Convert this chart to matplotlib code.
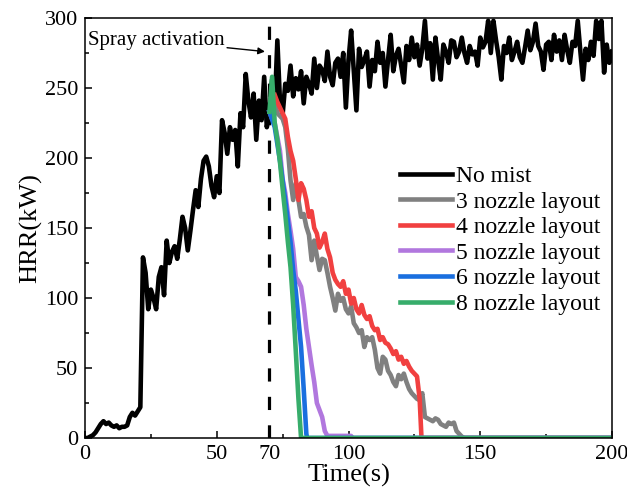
import matplotlib
matplotlib.use("Agg")
import matplotlib.pyplot as plt
from matplotlib.ticker import MultipleLocator, FixedLocator

plt.rcParams['font.family'] = ['Liberation Serif', 'DejaVu Serif']
plt.rcParams['lines.scale_dashes'] = False

# ---------------- data ----------------
t_nomist = list(range(0, 201))
hrr_nomist = [
    0, 0, 1, 2, 4, 7, 10, 12, 10, 11, 9, 8, 9, 7, 8, 8, 9, 15, 18, 16,
    19, 22, 129, 118, 92, 106, 100, 92, 115, 122, 102, 141, 125, 133, 137, 128, 142, 158, 150, 134,
    148, 163, 177, 165, 185, 198, 201, 194, 180, 172, 187, 175, 227, 218, 203, 222, 213, 220, 194, 232,
    222, 260, 241, 229, 246, 213, 241, 227, 258, 222, 233, 256, 236, 284, 240, 231, 253, 248, 266, 244,
    257, 249, 262, 239, 258, 253, 246, 271, 250, 266, 263, 255, 276, 258, 252, 268, 271, 258, 275, 236,
    270, 291, 262, 234, 278, 265, 270, 276, 251, 270, 262, 283, 268, 275, 251, 270, 288, 262, 273, 278,
    266, 254, 280, 270, 286, 272, 281, 266, 278, 298, 271, 282, 256, 286, 270, 256, 281, 276, 268, 284,
    283, 272, 276, 286, 275, 268, 280, 274, 276, 266, 286, 279, 283, 298, 275, 298, 284, 272, 256, 280,
    275, 286, 270, 276, 283, 272, 268, 279, 291, 277, 283, 296, 280, 276, 263, 281, 283, 270, 288, 276,
    284, 270, 288, 277, 268, 283, 280, 298, 276, 256, 278, 270, 283, 273, 298, 285, 298, 261, 281, 268,
    276,
]

t_n3 = [72, 73, 74, 75, 76, 77, 78, 79, 80, 81, 82, 83, 84, 85, 86, 87, 88, 89, 90, 91,
        92, 93, 94, 95, 96, 97, 98, 99, 100, 101, 102, 103, 104, 105, 106, 107, 108, 109, 110, 111,
        112, 113, 114, 115, 116, 117, 118, 119, 120, 121, 122, 123, 124, 125, 126, 127, 128, 129, 130, 131,
        132, 133, 134, 135, 136, 137, 138, 139, 140, 141, 142, 143, 144, 200]
hrr_n3 = [240, 232, 230, 228, 222, 206, 184, 170, 182, 170, 158, 160, 151, 145, 127, 141, 130, 120, 128, 127,
          118, 108, 100, 91, 103, 98, 100, 92, 89, 94, 82, 79, 75, 77, 65, 72, 70, 72, 63, 50,
          46, 58, 56, 48, 45, 40, 37, 45, 42, 46, 40, 35, 32, 30, 28, 27, 32, 15, 14, 13,
          12, 14, 13, 10, 9, 8, 11, 10, 11, 5, 3, 1, 0, 0]

t_n4 = [72, 73, 74, 75, 76, 77, 78, 79, 80, 81, 82, 83, 84, 85, 86, 87, 88, 89, 90, 91,
        92, 93, 94, 95, 96, 97, 98, 99, 100, 101, 102, 103, 104, 105, 106, 107, 108, 109, 110, 111,
        112, 113, 114, 115, 116, 117, 118, 119, 120, 121, 122, 123, 124, 125, 126, 127, 127.7, 200]
hrr_n4 = [245, 240, 236, 232, 228, 215, 205, 198, 185, 170, 182, 178, 170, 158, 162, 150, 146, 136, 140, 146,
          135, 129, 118, 113, 110, 108, 112, 103, 106, 96, 100, 92, 89, 95, 88, 85, 87, 80, 77, 78,
          70, 72, 68, 67, 64, 60, 62, 56, 58, 53, 55, 51, 48, 46, 44, 28, 0, 0]

t_n5 = [70, 71, 72, 73, 74, 75, 76, 77, 78, 79, 80, 81, 82, 83, 84, 85, 86, 87, 88, 89,
        90, 91, 92, 101, 101.3, 200]
hrr_n5 = [233, 228, 225, 215, 205, 185, 175, 160, 148, 135, 115, 112, 108, 95, 78, 65, 52, 40, 25, 20,
          15, 5, 1.5, 1.5, 0, 0]

t_n6 = [70, 72, 74, 76, 77, 78, 79, 80, 81, 82, 83, 84, 84.3, 200]
hrr_n6 = [233, 222, 198, 170, 155, 140, 120, 105, 85, 65, 35, 3, 0, 0]

t_n8 = [70, 71, 72, 73, 74, 75, 76, 77, 78, 79, 80, 81, 82, 200]
hrr_n8 = [233, 258, 225, 213, 197, 178, 160, 140, 122, 95, 62, 28, 0, 0]

labels = ['No mist', '3 nozzle layout', '4 nozzle layout', '5 nozzle layout',
          '6 nozzle layout', '8 nozzle layout']
colors = ['#000000', '#808080', '#F14040', '#B177DE', '#1A6FDF', '#37AD6B']

x_major = [0, 50, 70, 100, 150, 200]
x_minor = [25, 75, 125, 175]
spray_time = 70

# ---------------- figure ----------------
fig = plt.figure(figsize=(6.27, 4.98), dpi=100)
ax = fig.add_axes([85 / 627, 1 - 438 / 498, 527 / 627, 420 / 498])

series = [(t_nomist, hrr_nomist), (t_n3, hrr_n3), (t_n4, hrr_n4),
          (t_n5, hrr_n5), (t_n6, hrr_n6), (t_n8, hrr_n8)]
for (tt, yy), lab, c in zip(series, labels, colors):
    ax.plot(tt, yy, color=c, lw=3.3, label=lab, solid_joinstyle='round')

ax.axvline(spray_time, color='black', lw=2.3, linestyle=(0, (9.5, 11)), zorder=1)

ax.set_xlim(0, 200)
ax.set_ylim(0, 300)
ax.xaxis.set_major_locator(FixedLocator(x_major))
ax.xaxis.set_minor_locator(FixedLocator(x_minor))
ax.yaxis.set_major_locator(MultipleLocator(50))
ax.yaxis.set_minor_locator(MultipleLocator(25))
ax.tick_params(which='both', direction='in', top=False, right=False,
               labelsize=16, width=1.1)
ax.tick_params(which='major', length=5, pad=5)
ax.tick_params(which='minor', length=3)
for s in ax.spines.values():
    s.set_linewidth(1.1)

ax.set_xlabel('Time(s)', fontsize=19, labelpad=0)
ax.set_ylabel('HRR(kW)', fontsize=19, labelpad=2)

ax.annotate('Spray activation', xy=(68.3, 276), xytext=(1, 284),
            fontsize=15, va='center', ha='left',
            arrowprops=dict(arrowstyle='-|>', color='black', lw=1.0,
                            mutation_scale=10, shrinkA=0, shrinkB=0))

leg = ax.legend(loc='center left', bbox_to_anchor=(0.598, 0.471), frameon=False,
                fontsize=17, handlelength=2.2, handletextpad=0.15,
                labelspacing=0.17, borderpad=0, borderaxespad=0)

fig.savefig('out.png', dpi=100)
